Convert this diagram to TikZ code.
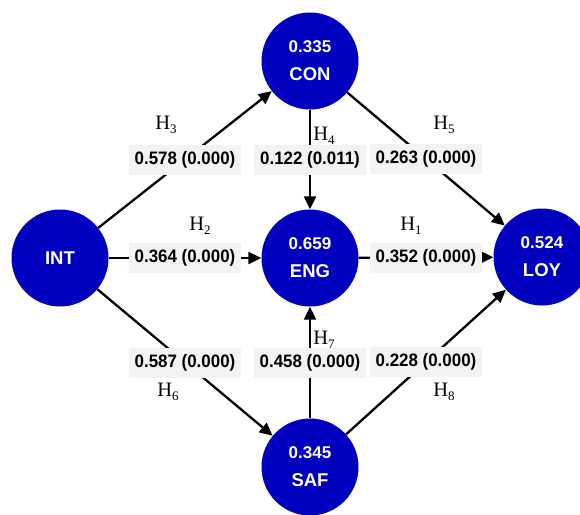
\documentclass[tikz,border=0pt]{standalone}
\usepackage{fontspec}
\setmainfont{Liberation Serif}
\setsansfont{Liberation Sans}
\usetikzlibrary{arrows.meta}
\definecolor{nodeblue}{RGB}{0,0,190}
\definecolor{lblbg}{RGB}{243,243,243}
\newcommand{\hyp}[1]{H\raisebox{-0.45ex}{\fontsize{13}{13}\selectfont #1}}
\newcommand{\cfx}[1]{\scalebox{0.94}[1]{#1}}
\newcommand{\lvtxt}[2]{{\fontsize{17}{17}\selectfont #1}\\[14pt]{\fontsize{18.5}{18.5}\selectfont #2}}
\begin{document}
\begin{tikzpicture}[x=1pt,y=-1pt,
  lv/.style={circle, fill=nodeblue, minimum size=97pt, inner sep=0pt, text=white,
    font=\sffamily\bfseries, align=center},
  edge/.style={line width=2.3pt, -{Triangle[length=13pt,width=12pt]}},
  coef/.style={fill=lblbg, font=\sffamily\bfseries\fontsize{18}{20}\selectfont,
    inner xsep=6pt, inner ysep=0pt, minimum height=30pt},
  hyplbl/.style={font=\fontsize{20.5}{20.5}\selectfont, inner sep=0pt}]
\useasboundingbox (0,0) rectangle (580,514);
\fill[white] (0,0) rectangle (580,514);
\node[lv] (CON) at (310,61) {\lvtxt{0.335}{CON}};
\node[lv] (ENG) at (310,258) {\lvtxt{0.659}{ENG}};
\node[lv] (INT) at (60,258) {\fontsize{18.5}{18.5}\selectfont INT};
\node[lv] (LOY) at (542,257) {\lvtxt{0.524}{LOY}};
\node[lv] (SAF) at (310,467) {\lvtxt{0.345}{SAF}};
\draw[edge] (INT) -- node[coef] (c3) {\cfx{0.578 (0.000)}} (CON);
\draw[edge] (CON) -- node[coef] (c4) {\cfx{0.122 (0.011)}} (ENG);
\draw[edge] (CON) -- node[coef] (c5) {\cfx{0.263 (0.000)}} (LOY);
\draw[edge] (INT) -- node[coef] (c2) {\cfx{0.364 (0.000)}} (ENG);
\draw[edge] (ENG) -- node[coef] (c1) {\cfx{0.352 (0.000)}} (LOY);
\draw[edge] (INT) -- node[coef] (c6) {\cfx{0.587 (0.000)}} (SAF);
\draw[edge] (SAF) -- node[coef] (c7) {\cfx{0.458 (0.000)}} (ENG);
\draw[edge] (SAF) -- node[coef] (c8) {\cfx{0.228 (0.000)}} (LOY);
\node[hyplbl] (h3) at (166,125) {\hyp{3}};
\node[hyplbl] (h4) at (324,136) {\hyp{4}};
\node[hyplbl] (h5) at (444,125) {\hyp{5}};
\node[hyplbl] (h2) at (200,226) {\hyp{2}};
\node[hyplbl] (h1) at (411,226) {\hyp{1}};
\node[hyplbl] (h6) at (168,392) {\hyp{6}};
\node[hyplbl] (h7) at (324,340) {\hyp{7}};
\node[hyplbl] (h8) at (444,392) {\hyp{8}};
\end{tikzpicture}
\end{document}
